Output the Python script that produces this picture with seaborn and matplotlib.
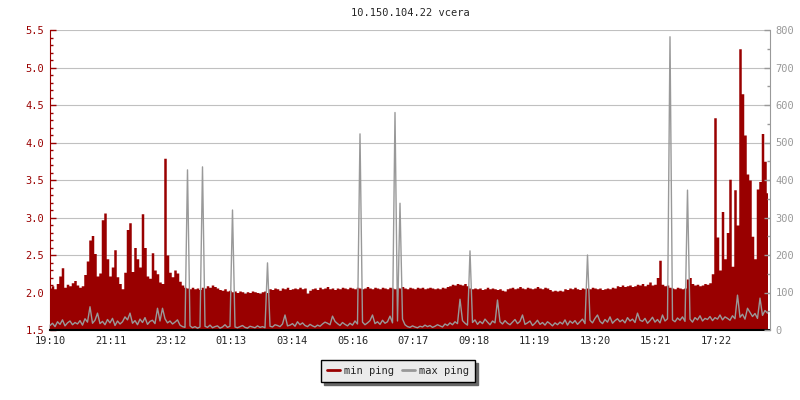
import numpy as np
import pandas as pd
import matplotlib
matplotlib.use("Agg")
import matplotlib.pyplot as plt
from matplotlib.lines import Line2D
import seaborn as sns

# 5-minute samples over 24 hours, starting 19:10
title = "10.150.104.22 vcera"
tick_minutes = [0, 121, 242, 363, 484, 606, 727, 848, 969, 1090, 1211, 1332]
tick_labels = ["19:10", "21:11", "23:12", "01:13", "03:14", "05:16",
               "07:17", "09:18", "11:19", "13:20", "15:21", "17:22"]

min_ping = [
    2.06, 2.09, 2.05, 2.12, 2.22, 2.33, 2.07, 2.11, 2.09, 2.13, 2.16, 2.10,
    2.07, 2.09, 2.24, 2.42, 2.70, 2.76, 2.52, 2.22, 2.26, 2.97, 3.06, 2.45,
    2.22, 2.34, 2.57, 2.21, 2.12, 2.05, 2.27, 2.84, 2.93, 2.28, 2.60, 2.45,
    2.34, 3.05, 2.60, 2.22, 2.19, 2.53, 2.30, 2.25, 2.14, 2.12, 3.79, 2.50,
    2.27, 2.21, 2.30, 2.26, 2.15, 2.10, 2.07, 2.06, 2.05, 2.07, 2.05, 2.06,
    2.04, 2.07, 2.06, 2.09, 2.07, 2.10, 2.08, 2.06, 2.04, 2.03, 2.05, 2.02,
    2.03, 2.01, 2.02, 2.00, 2.02, 2.01, 1.99, 2.01, 2.00, 2.02, 2.01, 2.00,
    1.99, 2.01, 2.02, 2.00, 2.05, 2.04, 2.06, 2.05, 2.03, 2.06, 2.05, 2.07,
    2.04, 2.05, 2.06, 2.05, 2.07, 2.05, 2.06, 1.99, 2.03, 2.05, 2.06, 2.04,
    2.07, 2.05, 2.06, 2.08, 2.05, 2.06, 2.04, 2.06, 2.05, 2.07, 2.06, 2.05,
    2.07, 2.06, 2.05, 2.07, 2.06, 2.05, 2.06, 2.08, 2.06, 2.05, 2.07, 2.06,
    2.05, 2.07, 2.06, 2.05, 2.07, 2.06, 2.05, 2.07, 2.06, 2.08, 2.06, 2.05,
    2.07, 2.06, 2.05, 2.07, 2.06, 2.07, 2.05, 2.06, 2.07, 2.06, 2.05, 2.06,
    2.05, 2.07, 2.06, 2.08, 2.09, 2.11, 2.10, 2.12, 2.11, 2.10, 2.12, 2.09,
    2.06, 2.05, 2.06, 2.05, 2.06, 2.04, 2.05, 2.07, 2.05, 2.06, 2.05, 2.04,
    2.05, 2.03, 2.02, 2.05, 2.06, 2.07, 2.05, 2.06, 2.08, 2.06, 2.05, 2.07,
    2.06, 2.05, 2.06, 2.08, 2.06, 2.05, 2.07, 2.06, 2.04, 2.02, 2.03, 2.02,
    2.03, 2.02, 2.05, 2.04, 2.06, 2.05, 2.07, 2.05, 2.04, 2.06, 2.05, 2.06,
    2.05, 2.07, 2.06, 2.05, 2.06, 2.04, 2.05, 2.06, 2.05, 2.07, 2.06, 2.09,
    2.08, 2.10, 2.08, 2.09, 2.10, 2.08, 2.09, 2.11, 2.10, 2.12, 2.09, 2.11,
    2.14, 2.10, 2.11, 2.20, 2.43, 2.11, 2.09, 2.10, 2.07, 2.06, 2.05, 2.07,
    2.06, 2.05, 2.06, 2.18, 2.20, 2.12, 2.10, 2.11, 2.09, 2.10, 2.12, 2.11,
    2.13, 2.25, 4.33, 2.74, 2.30, 3.08, 2.45, 2.80, 3.51, 2.35, 3.37, 2.90,
    5.25, 4.65, 4.10, 3.58, 3.50, 2.75, 2.45, 3.38, 3.48, 4.12, 3.75, 3.33,
]

max_ping = [
    12, 18, 9, 22, 15, 27, 11, 19, 24, 14, 20, 16,
    25, 13, 30, 21, 62, 18, 26, 45, 17, 23, 14, 28,
    19, 31, 12, 24, 16, 22, 35, 27, 45, 18, 25, 14,
    29, 20, 33, 15, 23, 26, 17, 58, 24, 58, 30, 19,
    24, 16, 21, 27, 13, 9, 7, 427, 11, 6, 9, 5,
    8, 435, 10, 7, 13, 6, 9, 11, 5, 8, 14, 7,
    10, 320, 8, 6, 9, 12, 7, 5, 10, 8, 6, 11,
    7, 9, 6, 179, 10, 8, 14, 12, 9, 16, 40, 11,
    13, 17, 10, 22, 14, 19, 12, 9, 15, 11, 8, 13,
    10, 16, 21, 18, 14, 37, 23, 17, 12, 20, 15, 11,
    18, 13, 24, 16, 523, 21, 14, 19, 25, 40, 17, 22,
    15, 26, 18, 22, 37, 19, 580, 24, 338, 29, 14, 9,
    7, 11, 8, 6, 10, 8, 13, 9, 12, 7, 10, 14,
    11, 8, 16, 12, 19, 14, 22, 17, 82, 25, 18, 13,
    211, 20, 27, 15, 23, 17, 29, 21, 14, 24, 19, 80,
    22, 16, 25, 18, 14, 21, 28, 17, 23, 40, 15, 19,
    24, 12, 18, 26, 15, 20, 13, 22, 17, 11, 19, 14,
    21, 16, 27, 13, 24, 18, 25, 15, 22, 29, 17, 200,
    26, 19, 31, 40, 23, 17, 28, 21, 35, 18, 25, 30,
    22, 27, 19, 33, 24, 29, 20, 45, 26, 23, 31, 18,
    25, 34, 21, 28, 19, 40, 24, 30, 782, 27, 22, 32,
    26, 35, 23, 373, 29, 21, 33, 27, 38, 24, 31, 28,
    36, 25, 33, 29, 40, 27, 35, 31, 26, 38, 30, 93,
    34, 42, 29, 58, 47, 36, 44, 31, 85, 39, 52, 45,
]

RED = "#990000"
GREY = "#999999"

df = pd.DataFrame({"minute": np.arange(len(min_ping)) * 5,
                   "min_ping": min_ping, "max_ping": max_ping})

sns.set_style("white")
plt.rcParams["font.family"] = ["DejaVu Sans Mono"]

fig = plt.figure(figsize=(8, 4), dpi=100)
ax = fig.add_axes([0.0625, 0.175, 0.9, 0.75])
ax2 = ax.twinx()

# min ping as filled area (left axis)
ax.fill_between(df["minute"], 1.5, df["min_ping"], step="mid",
                color=RED, linewidth=0, zorder=2)
ax.set_ylim(1.5, 5.5)
ax.set_xlim(0, 1440)
ax.set_yticks(np.arange(1.5, 5.51, 0.5))
ax.set_yticks(np.arange(1.5, 5.51, 0.1), minor=True)
ax.set_yticklabels([f"{v:.1f}" for v in np.arange(1.5, 5.51, 0.5)])
ax.set_xticks(tick_minutes, tick_labels)
ax.grid(axis="y", color="#c0c0c0", linewidth=0.8)
ax.set_axisbelow(True)

# max ping as line (right axis)
sns.lineplot(data=df, x="minute", y="max_ping", ax=ax2, color=GREY,
             linewidth=1)
ax2.set_ylim(0, 800)
ax2.set_yticks(range(0, 801, 100))
ax2.set_yticks(range(0, 801, 50), minor=True)
ax2.set_xlim(0, 1440)
ax2.set_xlabel("")
ax2.set_ylabel("")
ax.set_xlabel("")
ax.set_ylabel("")

for a in (ax, ax2):
    a.spines["top"].set_visible(False)
ax.spines["left"].set_color(RED)
ax.spines["bottom"].set_color("black")
ax.spines["bottom"].set_linewidth(1.5)
ax.spines["right"].set_visible(False)
ax2.spines["left"].set_visible(False)
ax2.spines["bottom"].set_visible(False)
ax2.spines["right"].set_color(GREY)

ax.tick_params(axis="y", which="major", direction="in", length=4, width=1,
               color=RED, labelcolor=RED, labelsize=7.5, pad=4, left=True)
ax.tick_params(axis="y", which="minor", direction="in", length=2, width=1,
               color=RED, left=True)
ax.tick_params(axis="x", direction="in", length=4, width=1, color="black",
               labelsize=7.5, pad=4, bottom=True)
ax2.tick_params(axis="y", which="major", direction="in", length=4, width=1,
                color=GREY, labelcolor=GREY, labelsize=7.5, pad=4, right=True)
ax2.tick_params(axis="y", which="minor", direction="in", length=2, width=1,
                color=GREY, right=True)

ax.set_title(title, fontsize=7.5, pad=10)

handles = [Line2D([], [], color=RED, linewidth=2),
           Line2D([], [], color=GREY, linewidth=2)]
fig.legend(handles, ["min ping", "max ping"], loc="center",
           bbox_to_anchor=(0.4975, 0.0725), ncol=2, fontsize=7.5,
           frameon=True, fancybox=False, facecolor="#ebebeb",
           edgecolor="black", framealpha=1,
           shadow={"ox": 2, "oy": -2, "color": "#666666", "alpha": 1},
           handlelength=1.2, handletextpad=0.4, columnspacing=0.8,
           borderpad=0.6)

fig.savefig("out.png", dpi=100)
